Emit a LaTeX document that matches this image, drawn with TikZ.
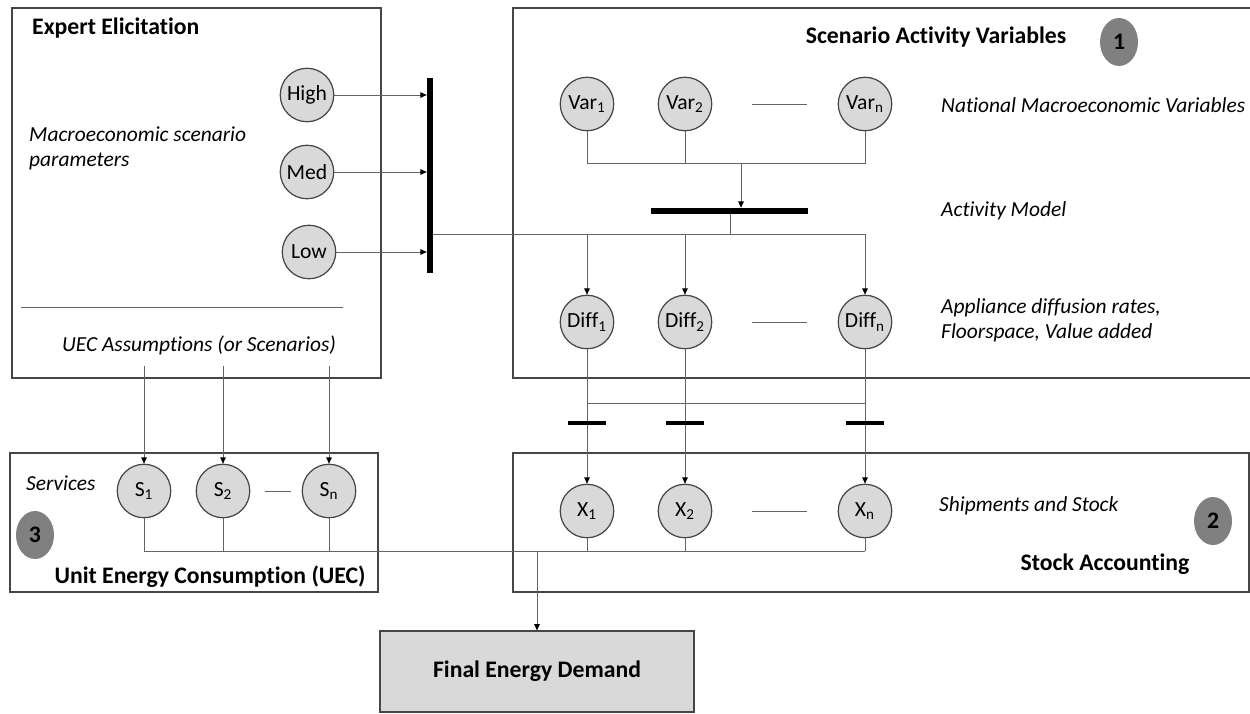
\documentclass[tikz,border=0pt]{standalone}
\usepackage{fontspec}
\setmainfont{Carlito}[Ligatures=NoCommon]
\usepackage{tikz}
\usetikzlibrary{arrows.meta, positioning, calc, shapes.geometric}
\definecolor{bubblegray}{RGB}{217,217,217}
\definecolor{badgegray}{RGB}{128,128,128}
\definecolor{framegray}{RGB}{70,70,70}
\definecolor{wiregray}{RGB}{100,100,100}

\begin{document}
\begin{tikzpicture}[x=0.02cm, y=-0.02cm,
    var/.style={circle, draw=framegray, fill=bubblegray, line width=0.7pt, minimum size=1.07cm, inner sep=0pt, font=\fontsize{12.3}{14}\selectfont},
    badge/.style={ellipse, fill=badgegray, minimum width=0.76cm, minimum height=0.96cm, inner sep=0pt, font=\bfseries\fontsize{13.5}{16}\selectfont},
    panel/.style={draw=framegray, line width=1pt},
    wire/.style={draw=wiregray, line width=0.5pt},
    feed/.style={wire, -{Triangle[length=3.6pt, width=3.2pt, color=black]}},
    gate/.style={fill=black, inner sep=0pt},
    title/.style={font=\bfseries\fontsize{13.5}{16}\selectfont},
    note/.style={font=\itshape\fontsize{12.2}{14.3}\selectfont, align=left}]
    \useasboundingbox (0,0) rectangle (1250,713);

    % panels
    \draw[panel] (12,8) rectangle (381,378);
    \draw[panel] (513,8) rectangle (1262,378);
    \draw[panel] (10,453) rectangle (378,592);
    \draw[panel] (513,453) rectangle (1249,592);

    % expert elicitation
    \node[title, anchor=west] (experttitle) at (26,28) {Expert Elicitation};
    \node[note, anchor=west] (macronote) at (23,148) {Macroeconomic scenario\\parameters};
    \node[var] (high) at (307,95) {High};
    \node[var] (med) at (307,172) {Med};
    \node[var] (low) at (309,252) {Low};
    \node[gate, minimum width=0.12cm, minimum height=3.9cm] (scenbar) at (430,175.5) {};
    \draw[wire] (21,307) -- (343,307);
    \node[note] (uecnote) at (199,345) {UEC Assumptions (or Scenarios)};

    % scenario activity variables
    \node[title] (scentitle) at (936,37) {Scenario Activity Variables};
    \node[badge] (badge1) at (1119,42) {1};
    \node[var] (var1) at (587,104) {Var\textsubscript{1}};
    \node[var] (var2) at (685,104) {Var\textsubscript{2}};
    \node[var] (varn) at (865,104) {Var\textsubscript{n}};
    \node[note, anchor=west] (macrovars) at (935,105) {National Macroeconomic Variables};
    \node[gate, minimum width=3.14cm, minimum height=0.12cm] (actbar) at (729.5,211) {};
    \node[note, anchor=west] (actnote) at (935,211) {Activity Model};
    \node[var] (diff1) at (587,322) {Diff\textsubscript{1}};
    \node[var] (diff2) at (685,322) {Diff\textsubscript{2}};
    \node[var] (diffn) at (865,322) {Diff\textsubscript{n}};
    \node[note, anchor=west] (diffnote) at (935,320) {Appliance diffusion rates,\\Floorspace, Value added};

    % stock accounting
    \node[var] (x1) at (587,511) {X\textsubscript{1}};
    \node[var] (x2) at (685,511) {X\textsubscript{2}};
    \node[var] (xn) at (865,511) {X\textsubscript{n}};
    \node[note, anchor=west] (stocknote) at (933,506) {Shipments and Stock};
    \node[badge] (badge2) at (1213,521) {2};
    \node[title] (stocktitle) at (1105,564) {Stock Accounting};

    % unit energy consumption
    \node[note, anchor=west] (servnote) at (20,483) {Services};
    \node[var] (s1) at (144,491) {S\textsubscript{1}};
    \node[var] (s2) at (223,491) {S\textsubscript{2}};
    \node[var] (sn) at (329,491) {S\textsubscript{n}};
    \node[badge] (badge3) at (35,535) {3};
    \node[title] (uectitle) at (210,577) {Unit Energy Consumption (UEC)};

    \node[draw=framegray, fill=bubblegray, line width=1pt, minimum width=6.28cm, minimum height=1.61cm, title] (demand) at (537,671.5) {Final Energy Demand};

    % scenarios into the bar
    \foreach \lvl in {high,med,low}
      \draw[feed] (\lvl) -- (\lvl -| scenbar.west);

    % variables into the activity model
    \coordinate (varmerge) at (741,163);
    \draw[wire] (var1) -- (var1 |- varmerge) -- (varn |- varmerge) -- (varn);
    \draw[wire] (var2) -- (var2 |- varmerge);
    \draw[feed] (varmerge) -- (varmerge |- actbar.north);

    % activity model out to diffusion
    \coordinate (fanout) at (730,234);
    \draw[wire] (scenbar.east |- fanout) -- (fanout -| diffn);
    \draw[wire] (actbar.south -| fanout) -- (fanout);
    \foreach \c in {1,2,n}
      \draw[feed] (fanout -| diff\c) -- (diff\c);

    % diffusion into stock
    \coordinate (difflink) at (0,403);
    \coordinate (gaterow) at (0,423);
    \draw[wire] (diff1 |- difflink) -- (diffn |- difflink);
    \foreach \c in {1,2,n} {
      \draw[feed] (diff\c) -- (x\c);
      \node[gate, minimum width=0.76cm, minimum height=0.07cm] (gate\c) at (diff\c |- gaterow) {};
    }

    % UEC assumptions into services
    \coordinate (uecsrc) at (0,366);
    \foreach \c in {1,2,n}
      \draw[feed] (s\c |- uecsrc) -- (s\c);

    % ellipsis dashes
    \draw[wire] ($(var2)!0.37!(varn)$) -- ($(var2)!0.68!(varn)$);
    \draw[wire] ($(diff2)!0.37!(diffn)$) -- ($(diff2)!0.68!(diffn)$);
    \draw[wire] ($(x2)!0.37!(xn)$) -- ($(x2)!0.68!(xn)$);
    \draw[wire] ($(s2)!0.40!(sn)$) -- ($(s2)!0.64!(sn)$);

    % services and stock into demand
    \coordinate (sumline) at (537,551);
    \draw[wire] (s1 |- sumline) -- (xn |- sumline);
    \foreach \c in {1,2,n} {
      \draw[wire] (s\c) -- (s\c |- sumline);
      \draw[wire] (x\c) -- (x\c |- sumline);
    }
    \draw[feed] (sumline) -- (demand);
\end{tikzpicture}
\end{document}
